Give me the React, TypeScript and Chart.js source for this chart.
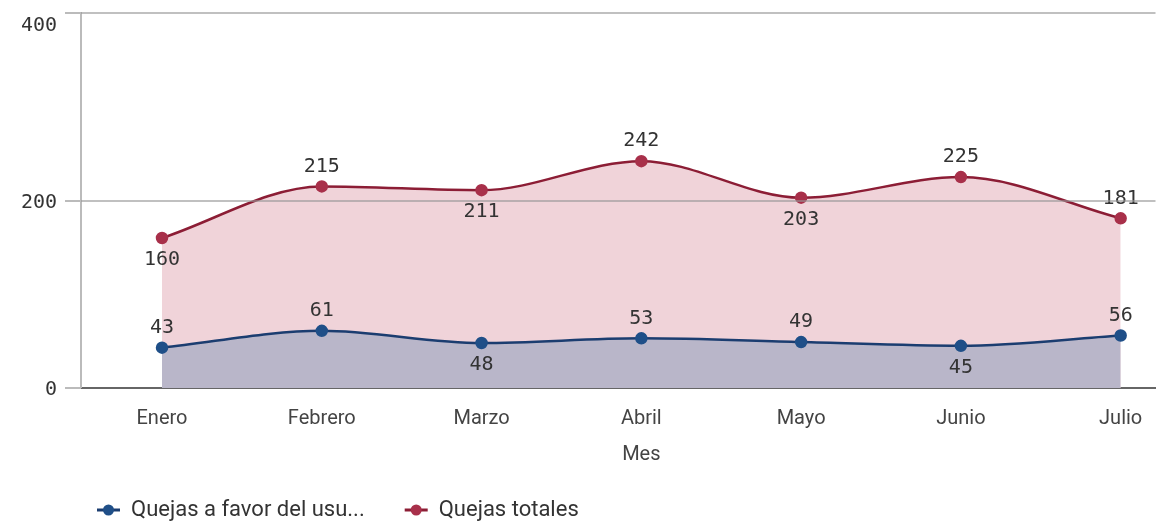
import React, { useEffect, useRef } from "react";
import { Chart, registerables } from "chart.js";

Chart.register(...registerables);

const months = ["Enero", "Febrero", "Marzo", "Abril", "Mayo", "Junio", "Julio"];
const favorValues = [43, 61, 48, 53, 49, 45, 56];
const totalValues = [160, 215, 211, 242, 203, 225, 181];
const favorLabelPos = ["above", "above", "below", "above", "above", "below", "above"];
const totalLabelPos = ["below", "above", "below", "above", "below", "above", "above"];
const yTicks = [0, 200, 400];
const seriesNames = ["Quejas a favor del usu...", "Quejas totales"];
const xTitle = "Mes";

const BLUE = "#1b3d70";
const BLUE_PT = "#1f4f88";
const BLUE_FILL = "#b9b6c9";
const RED = "#8c1d35";
const RED_PT = "#a8304a";
const RED_FILL = "#f0d3d9";
const MONO = "'DejaVu Sans Mono', monospace";
const SANS = "Roboto, 'Noto Sans', sans-serif";

const overlayPlugin = {
  id: "overlay",
  afterDatasetsDraw(chart: any) {
    const ctx = chart.ctx;
    const area = chart.chartArea;
    ctx.save();
    // value labels
    ctx.font = `20px ${MONO}`;
    ctx.fillStyle = "#333";
    ctx.textAlign = "center";
    const sets = [
      { idx: 0, vals: favorValues, pos: favorLabelPos },
      { idx: 1, vals: totalValues, pos: totalLabelPos },
    ];
    sets.forEach((s) => {
      const meta = chart.getDatasetMeta(s.idx);
      meta.data.forEach((pt: any, i: number) => {
        const above = s.pos[i] === "above";
        ctx.textBaseline = above ? "bottom" : "top";
        ctx.fillText(String(s.vals[i]), pt.x, above ? pt.y - 10 : pt.y + 12);
      });
    });
    // y axis line + tick marks + labels
    const y = chart.scales.y;
    ctx.strokeStyle = "#bbb";
    ctx.lineWidth = 2;
    ctx.beginPath();
    ctx.moveTo(area.left, area.top - 1);
    ctx.lineTo(area.left, area.bottom);
    ctx.stroke();
    ctx.textAlign = "right";
    ctx.textBaseline = "middle";
    ctx.fillStyle = "#333";
    yTicks.forEach((v) => {
      const py = Math.round(y.getPixelForValue(v));
      ctx.beginPath();
      ctx.moveTo(area.left - 16, py);
      ctx.lineTo(area.left, py);
      ctx.stroke();
      const ly = Math.max(py, area.top + 11);
      ctx.fillText(String(v), 57, ly + 2);
    });
    // x axis title, centred under the middle category
    const x = chart.scales.x;
    ctx.font = `20px ${SANS}`;
    ctx.fillStyle = "#444";
    ctx.textAlign = "center";
    ctx.textBaseline = "middle";
    ctx.fillText(xTitle, x.getPixelForValue((months.length - 1) / 2), 455);
    // legend
    const colors = [BLUE_PT, RED_PT];
    const lineColors = [BLUE, RED];
    const legendY = 510;
    let lx = 97;
    ctx.font = `22px ${SANS}`;
    ctx.textAlign = "left";
    ctx.textBaseline = "middle";
    seriesNames.forEach((name, i) => {
      ctx.strokeStyle = lineColors[i];
      ctx.lineWidth = 3;
      ctx.beginPath();
      ctx.moveTo(lx, legendY);
      ctx.lineTo(lx + 23, legendY);
      ctx.stroke();
      ctx.fillStyle = colors[i];
      ctx.beginPath();
      ctx.arc(lx + 11.5, legendY, 5.5, 0, Math.PI * 2);
      ctx.fill();
      ctx.fillStyle = "#333";
      ctx.fillText(name, lx + 34, legendY);
      lx += 34 + ctx.measureText(name).width + 40;
    });
    ctx.restore();
  },
};

export default function App() {
  const ref = useRef<HTMLCanvasElement>(null);
  useEffect(() => {
    document.body.style.margin = "0";
    const chart = new Chart(ref.current!, {
      type: "line",
      data: {
        datasets: [
          {
            label: seriesNames[0],
            data: favorValues.map((v, i) => ({ x: i, y: v })),
            borderColor: BLUE,
            backgroundColor: BLUE_FILL,
            pointBackgroundColor: BLUE_PT,
            pointBorderColor: BLUE_PT,
            pointRadius: 5,
            borderWidth: 2.5,
            cubicInterpolationMode: "monotone",
            fill: "origin",
          },
          {
            label: seriesNames[1],
            data: totalValues.map((v, i) => ({ x: i, y: v })),
            borderColor: RED,
            backgroundColor: RED_FILL,
            pointBackgroundColor: RED_PT,
            pointBorderColor: RED_PT,
            pointRadius: 5,
            borderWidth: 2.5,
            cubicInterpolationMode: "monotone",
            fill: "origin",
          },
        ],
      },
      options: {
        animation: false,
        responsive: true,
        maintainAspectRatio: false,
        layout: { padding: { top: 13, left: 0, right: 0, bottom: 53 } },
        plugins: {
          tooltip: { enabled: false },
          legend: { display: false },
        },
        scales: {
          x: {
            type: "linear",
            min: -0.507,
            max: 6.218,
            afterBuildTicks: (s: any) => {
              s.ticks = months.map((_, i) => ({ value: i }));
            },
            afterFit: (s: any) => {
              s.paddingRight = 0;
              s.paddingLeft = 0;
            },
            ticks: {
              callback: (v: any) => months[v] ?? "",
              font: { family: SANS, size: 20 },
              color: "#444",
              padding: 19,
              autoSkip: false,
              maxRotation: 0,
            },
            grid: { display: false, drawTicks: false },
            border: { display: true, color: "#666", width: 2 },
            title: {
              display: true,
              text: xTitle,
              font: { family: SANS, size: 20 },
              color: "rgba(0,0,0,0)",
              padding: { top: -5, bottom: 0 },
            },
          },
          y: {
            min: 0,
            max: 400,
            afterBuildTicks: (s: any) => {
              s.ticks = yTicks.map((v) => ({ value: v }));
            },
            afterFit: (s: any) => {
              s.width = 81;
            },
            ticks: { display: false },
            grid: {
              color: (c: any) => (c.tick && c.tick.value === 0 ? "rgba(0,0,0,0)" : "rgba(150,150,150,0.6)"),
              lineWidth: 2,
              drawTicks: false,
              z: 1,
            },
            border: { display: false },
          },
        },
      },
      plugins: [overlayPlugin],
    });
    return () => chart.destroy();
  }, []);
  return (
    <div style={{ width: 1163, height: 522, position: "relative" }}>
      <canvas ref={ref} />
    </div>
  );
}
